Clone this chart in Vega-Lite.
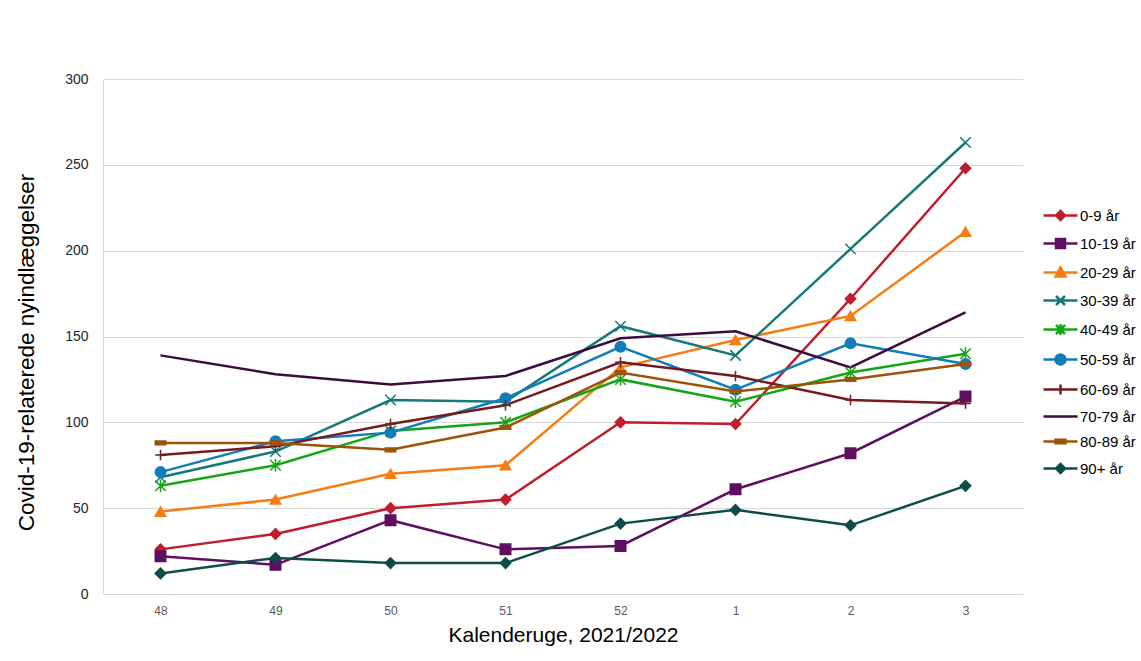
{
  "$schema": "https://vega.github.io/schema/vega-lite/v6.json",
  "autosize": {"type": "none"},
  "padding": {"left": 103, "top": 79, "right": 118, "bottom": 67},
  "width": 920,
  "height": 515,
  "background": "white",
  "config": {
    "font": "Liberation Sans",
    "view": {"stroke": null},
    "axis": {"gridColor": "#d9d9d9", "domainColor": "#d9d9d9", "ticks": false}
  },
  "data": {"values": [
    {"series": "0-9 år", "week": "48", "value": 26},
    {"series": "0-9 år", "week": "49", "value": 35},
    {"series": "0-9 år", "week": "50", "value": 50},
    {"series": "0-9 år", "week": "51", "value": 55},
    {"series": "0-9 år", "week": "52", "value": 100},
    {"series": "0-9 år", "week": "1", "value": 99},
    {"series": "0-9 år", "week": "2", "value": 172},
    {"series": "0-9 år", "week": "3", "value": 248},
    {"series": "10-19 år", "week": "48", "value": 22},
    {"series": "10-19 år", "week": "49", "value": 17},
    {"series": "10-19 år", "week": "50", "value": 43},
    {"series": "10-19 år", "week": "51", "value": 26},
    {"series": "10-19 år", "week": "52", "value": 28},
    {"series": "10-19 år", "week": "1", "value": 61},
    {"series": "10-19 år", "week": "2", "value": 82},
    {"series": "10-19 år", "week": "3", "value": 115},
    {"series": "20-29 år", "week": "48", "value": 48},
    {"series": "20-29 år", "week": "49", "value": 55},
    {"series": "20-29 år", "week": "50", "value": 70},
    {"series": "20-29 år", "week": "51", "value": 75},
    {"series": "20-29 år", "week": "52", "value": 132},
    {"series": "20-29 år", "week": "1", "value": 148},
    {"series": "20-29 år", "week": "2", "value": 162},
    {"series": "20-29 år", "week": "3", "value": 211},
    {"series": "30-39 år", "week": "48", "value": 68},
    {"series": "30-39 år", "week": "49", "value": 83},
    {"series": "30-39 år", "week": "50", "value": 113},
    {"series": "30-39 år", "week": "51", "value": 112},
    {"series": "30-39 år", "week": "52", "value": 156},
    {"series": "30-39 år", "week": "1", "value": 139},
    {"series": "30-39 år", "week": "2", "value": 201},
    {"series": "30-39 år", "week": "3", "value": 263},
    {"series": "40-49 år", "week": "48", "value": 63},
    {"series": "40-49 år", "week": "49", "value": 75},
    {"series": "40-49 år", "week": "50", "value": 95},
    {"series": "40-49 år", "week": "51", "value": 100},
    {"series": "40-49 år", "week": "52", "value": 125},
    {"series": "40-49 år", "week": "1", "value": 112},
    {"series": "40-49 år", "week": "2", "value": 129},
    {"series": "40-49 år", "week": "3", "value": 140},
    {"series": "50-59 år", "week": "48", "value": 71},
    {"series": "50-59 år", "week": "49", "value": 89},
    {"series": "50-59 år", "week": "50", "value": 94},
    {"series": "50-59 år", "week": "51", "value": 114},
    {"series": "50-59 år", "week": "52", "value": 144},
    {"series": "50-59 år", "week": "1", "value": 119},
    {"series": "50-59 år", "week": "2", "value": 146},
    {"series": "50-59 år", "week": "3", "value": 134},
    {"series": "60-69 år", "week": "48", "value": 81},
    {"series": "60-69 år", "week": "49", "value": 86},
    {"series": "60-69 år", "week": "50", "value": 99},
    {"series": "60-69 år", "week": "51", "value": 110},
    {"series": "60-69 år", "week": "52", "value": 135},
    {"series": "60-69 år", "week": "1", "value": 127},
    {"series": "60-69 år", "week": "2", "value": 113},
    {"series": "60-69 år", "week": "3", "value": 111},
    {"series": "70-79 år", "week": "48", "value": 139},
    {"series": "70-79 år", "week": "49", "value": 128},
    {"series": "70-79 år", "week": "50", "value": 122},
    {"series": "70-79 år", "week": "51", "value": 127},
    {"series": "70-79 år", "week": "52", "value": 149},
    {"series": "70-79 år", "week": "1", "value": 153},
    {"series": "70-79 år", "week": "2", "value": 132},
    {"series": "70-79 år", "week": "3", "value": 164},
    {"series": "80-89 år", "week": "48", "value": 88},
    {"series": "80-89 år", "week": "49", "value": 88},
    {"series": "80-89 år", "week": "50", "value": 84},
    {"series": "80-89 år", "week": "51", "value": 97},
    {"series": "80-89 år", "week": "52", "value": 129},
    {"series": "80-89 år", "week": "1", "value": 118},
    {"series": "80-89 år", "week": "2", "value": 125},
    {"series": "80-89 år", "week": "3", "value": 134},
    {"series": "90+ år", "week": "48", "value": 12},
    {"series": "90+ år", "week": "49", "value": 21},
    {"series": "90+ år", "week": "50", "value": 18},
    {"series": "90+ år", "week": "51", "value": 18},
    {"series": "90+ år", "week": "52", "value": 41},
    {"series": "90+ år", "week": "1", "value": 49},
    {"series": "90+ år", "week": "2", "value": 40},
    {"series": "90+ år", "week": "3", "value": 63}
  ]},
  "encoding": {
    "x": {
      "field": "week", "type": "ordinal",
      "sort": ["48", "49", "50", "51", "52", "1", "2", "3"],
      "scale": {"type": "point", "padding": 0.5},
      "axis": {"title": "Kalenderuge, 2021/2022", "labelAngle": 0, "labelFontSize": 12, "labelColor": "#595959", "labelPadding": 11, "titleFontSize": 21, "titleFontWeight": "normal", "titleColor": "#000000", "titlePadding": 8, "grid": false, "domainColor": "#d9d9d9"}
    },
    "y": {
      "field": "value", "type": "quantitative",
      "scale": {"domain": [0, 300]},
      "axis": {"title": "Covid-19-relaterede nyindlæggelser", "values": [0, 50, 100, 150, 200, 250, 300], "labelFontSize": 14, "labelColor": "#262626", "labelPadding": 15, "titleFontSize": 22.5, "titleFontWeight": "normal", "titleColor": "#000000", "titlePadding": 26, "titleY": 273}
    },
    "color": {
      "field": "series", "type": "nominal",
      "scale": {
        "domain": ["0-9 år", "10-19 år", "20-29 år", "30-39 år", "40-49 år", "50-59 år", "60-69 år", "70-79 år", "80-89 år", "90+ år"],
        "range": ["#BE1E2D", "#5F0F5F", "#F47D14", "#157A78", "#14A614", "#117DBB", "#751A1F", "#3D0B3D", "#9B5408", "#0D4D48"]
      },
      "legend": {
        "title": null,
        "orient": "none",
        "legendX": 950,
        "legendY": 129,
        "padding": 0,
        "symbolSize": 100,
        "symbolStrokeWidth": 2.5,
        "labelFontSize": 15,
        "labelColor": "#000000",
        "labelOffset": 12,
        "rowPadding": 9,
        "encode": {
          "symbols": {
            "update": {
              "shape": {"signal": "['M-3.4,0L3.4,0M0,-0.9L0.9,0L0,0.9L-0.9,0Z','M-3.4,0L3.4,0M-0.9,-0.9L0.9,-0.9L0.9,0.9L-0.9,0.9Z','M-3.4,0L3.4,0M0,-1L1,0.8L-1,0.8Z','M-3.4,0L3.4,0M-0.9,-0.9L0.9,0.9M-0.9,0.9L0.9,-0.9','M-3.4,0L3.4,0M-0.9,-0.9L0.9,0.9M-0.9,0.9L0.9,-0.9M0,-1.1L0,1.1','M-3.4,0L3.4,0M-1,0A1,1,0,1,0,1,0A1,1,0,1,0,-1,0Z','M-3.4,0L3.4,0M0,-1L0,1','M-3.4,0L3.4,0','M-3.4,0L3.4,0M-1,-0.35L1,-0.35L1,0.35L-1,0.35Z','M-3.4,0L3.4,0M0,-0.9L0.9,0L0,0.9L-0.9,0Z'][indexof(['0-9 år','10-19 år','20-29 år','30-39 år','40-49 år','50-59 år','60-69 år','70-79 år','80-89 år','90+ år'], datum.value)]"},
              "fill": {"signal": "scale('color', datum.value)"},
              "stroke": {"signal": "scale('color', datum.value)"},
              "strokeWidth": {"value": 2.5},
              "opacity": {"value": 1}
            }
          }
        }
      }
    }
  },
  "layer": [
    {
      "mark": {"type": "line", "strokeWidth": 2.5},
      "encoding": {"detail": {"field": "series"}}
    },
    {
      "transform": [{"filter": "datum.series !== '70-79 år'"}],
      "mark": {"type": "point", "filled": true, "opacity": 1, "size": 110, "strokeWidth": 1.5},
      "encoding": {
        "shape": {
          "field": "series", "type": "nominal", "legend": null,
          "scale": {
            "domain": ["0-9 år", "10-19 år", "20-29 år", "30-39 år", "40-49 år", "50-59 år", "60-69 år", "80-89 år", "90+ år"],
            "range": ["diamond", "square", "triangle-up", "M-1,-1L1,1M-1,1L1,-1", "M-1,-1L1,1M-1,1L1,-1M0,-1.2L0,1.2", "circle", "M-1,0L1,0M0,-1L0,1", "M-1,-0.35L1,-0.35L1,0.35L-1,0.35Z", "diamond"]
          }
        },
        "stroke": {
          "field": "series", "type": "nominal", "legend": null,
          "scale": {
            "domain": ["0-9 år", "10-19 år", "20-29 år", "30-39 år", "40-49 år", "50-59 år", "60-69 år", "70-79 år", "80-89 år", "90+ år"],
            "range": ["#BE1E2D", "#5F0F5F", "#F47D14", "#157A78", "#14A614", "#117DBB", "#751A1F", "#3D0B3D", "#9B5408", "#0D4D48"]
          }
        }
      }
    }
  ]
}
